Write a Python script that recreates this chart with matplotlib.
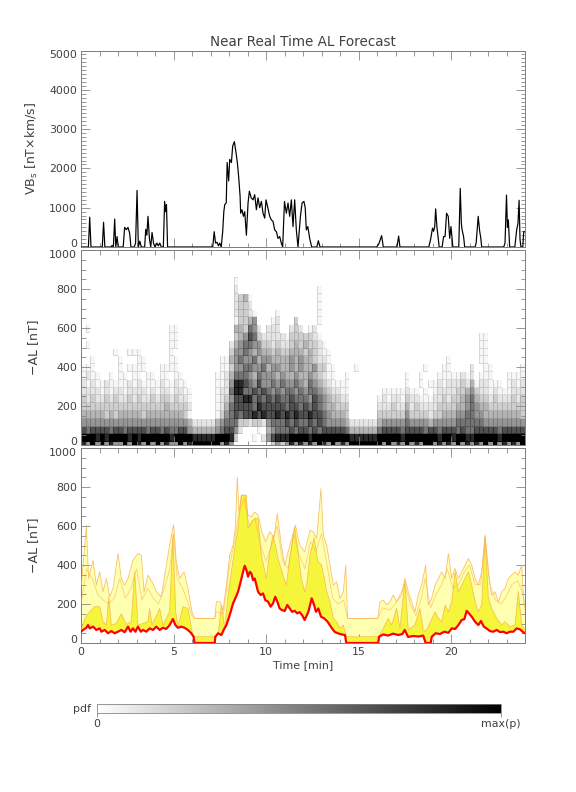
import numpy as np
import matplotlib.pyplot as plt
from matplotlib.ticker import MultipleLocator
from matplotlib.colors import PowerNorm

# ---- top panel: VBs [nT x km/s] vs time [min]
vbs_t = [0.00, 0.40, 0.47, 0.54, 1.15, 1.22, 1.29, 1.62, 1.68, 1.75, 1.82, 1.88, 1.95, 2.01,
         2.28, 2.36, 2.45, 2.54, 2.63, 2.70, 2.88, 2.95, 3.03, 3.10, 3.18, 3.26, 3.44, 3.50,
         3.56, 3.62, 3.70, 3.77, 3.84, 3.92, 4.00, 4.10, 4.18, 4.26, 4.34, 4.45, 4.52, 4.57,
         4.62, 4.68, 7.12, 7.20, 7.27, 7.35, 7.43, 7.50, 7.58, 7.66, 7.72, 7.77, 7.85, 7.90,
         7.98, 8.04, 8.13, 8.20, 8.29, 8.38, 8.45, 8.52, 8.60, 8.63, 8.70, 8.78, 8.85, 8.94,
         9.03, 9.10, 9.20, 9.30, 9.39, 9.48, 9.57, 9.66, 9.75, 9.84, 9.93, 10.00, 10.10, 10.20,
         10.29, 10.38, 10.47, 10.56, 10.65, 10.74, 10.83, 10.90, 11.00, 11.10, 11.19, 11.28,
         11.37, 11.46, 11.55, 11.64, 11.73, 11.86, 11.95, 12.05, 12.12, 12.18, 12.26, 12.36,
         12.47, 12.75, 12.83, 12.92, 15.98, 16.10, 16.25, 16.34, 17.08, 17.17, 17.24, 18.80,
         18.90, 19.00, 19.06, 19.12, 19.17, 19.24, 19.30, 19.36, 19.52, 19.60, 19.68, 19.76,
         19.85, 19.93, 20.00, 20.10, 20.42, 20.50, 20.56, 20.60, 20.68, 20.74, 21.30, 21.36,
         21.47, 21.55, 21.60, 21.66, 22.85, 22.92, 23.00, 23.05, 23.10, 23.17, 23.45, 23.55,
         23.62, 23.68, 23.73, 23.78, 23.88, 23.93, 24.00]
vbs_v = [0, 0, 760, 0, 0, 630, 0, 0, 40, 0, 710, 0, 265, 0,
         0, 500, 440, 500, 350, 0, 0, 100, 1440, 0, 150, 0, 0, 450,
         300, 780, 200, 0, 370, 100, 0, 100, 30, 100, 0, 0, 1160, 900,
         1080, 0, 0, 390, 100, 120, 30, 100, 0, 400, 900, 1080, 1120, 2150,
         1680, 2230, 2150, 2570, 2680, 2400, 2150, 1800, 1290, 860, 950, 780, 900, 300,
         1120, 1420, 1250, 1200, 1330, 950, 1250, 1000, 1160, 860, 735, 1200, 1000, 780,
         690, 650, 435, 390, 220, 265, 95, 0, 1160, 860, 1120, 780,
         1200, 520, 1200, 435, 0, 780, 1120, 1160, 1000, 435, 520, 220,
         0, 0, 160, 0, 0, 80, 290, 0, 0, 280, 0, 0,
         200, 480, 400, 520, 970, 500, 265, 0, 0, 265, 265, 860,
         780, 220, 520, 0, 0, 1490, 600, 435, 265, 0, 0, 100,
         780, 400, 265, 0, 0, 100, 1320, 500, 690, 0, 0, 435,
         600, 1190, 200, 0, 0, 390, 390]

# ---- middle panel: forecast pdf, one string per -AL bin (0, 40, 80 ... nT),
# one digit per 0.25 min column (0 = white, 9 = max), grouped by minute
pdf_rows = [
    "8595 9585 5959 8595 9585 5958 9999 9958 5000 0000 1353 5858 5859 8595 8599 9999 9595 8595 8599 5858 5958 5859 5958 5859",
    "9998 9899 9989 8999 9998 9999 8888 8999 8300 0102 5788 8999 9899 9999 9988 8888 9999 9899 9999 9899 8998 8999 9989 9999",
    "7677 7767 7677 7767 7676 6775 4444 4567 7520 0010 4566 6767 7676 7777 7644 4444 6777 7677 7767 7677 7676 6777 7767 7777",
    "5555 5555 5555 5555 5555 5554 2222 2456 6633 2332 5666 7676 6767 6555 5422 2222 4555 5565 5554 5555 5666 6665 5555 5555",
    "4444 4343 4444 4344 4444 4431 0000 0135 6767 7878 7787 8787 7877 6544 4300 0000 3333 3353 3332 3344 4556 6554 4444 4443",
    "3333 3333 3333 3333 3343 3332 0000 0124 6777 7687 7777 6776 7676 5443 3300 0000 2223 2242 3222 2333 3445 6544 3333 3333",
    "3232 2323 2232 3223 2332 3221 0000 0123 5778 8676 7676 6766 6576 5433 2200 0000 1212 2132 2111 2232 3345 6433 2322 2323",
    "2222 1212 2122 2212 1221 2211 0000 0122 6886 6767 6565 6656 5665 4322 1100 0000 0111 1121 1010 1222 2334 5322 1211 1222",
    "2121 1211 1121 2111 1211 2110 0000 0112 5887 6575 5656 5565 4654 3211 1100 0000 0000 0010 0101 1212 2232 4122 1110 1212",
    "1211 0010 1101 1011 0110 1100 0000 0112 4666 5465 5545 4454 4543 2110 0100 0000 0000 0010 0100 0111 1121 2011 1000 1111",
    "1110 0000 1011 1100 0111 1000 0000 0011 3556 6556 4554 4545 4453 3110 0001 0000 0000 0000 0010 0011 0000 2001 1000 0001",
    "0010 0000 1000 1100 0001 1000 0000 0011 4565 5645 5444 4545 4432 2100 0000 0000 0000 0000 0000 0001 0000 0011 0000 0000",
    "0000 0001 0011 1000 0001 0000 0000 0000 3556 5454 4343 3444 3432 1100 0000 0000 0000 0000 0000 0000 0000 0011 0000 0000",
    "0100 0000 0000 0000 0001 1000 0000 0000 2456 6553 3232 2343 4332 1000 0000 0000 0000 0000 0000 0000 0000 0011 0000 0000",
    "0000 0000 0000 0000 0001 1000 0000 0000 0345 7632 2222 1333 3321 0000 0000 0000 0000 0000 0000 0000 0000 0011 0000 0000",
    "0100 0000 0000 0000 0001 1000 0000 0000 0443 6520 2220 0232 0120 0000 0000 0000 0000 0000 0000 0000 0000 0000 0000 0000",
    "0000 0000 0000 0000 0000 0000 0000 0000 0133 4500 0120 0030 0001 0000 0000 0000 0000 0000 0000 0000 0000 0000 0000 0000",
    "0000 0000 0000 0000 0000 0000 0000 0000 0233 2100 0010 0000 0001 0000 0000 0000 0000 0000 0000 0000 0000 0000 0000 0000",
    "0000 0000 0000 0000 0000 0000 0000 0000 0233 2000 0000 0000 0001 0000 0000 0000 0000 0000 0000 0000 0000 0000 0000 0000",
    "0000 0000 0000 0000 0000 0000 0000 0000 0234 1000 0000 0000 0001 0000 0000 0000 0000 0000 0000 0000 0000 0000 0000 0000",
    "0000 0000 0000 0000 0000 0000 0000 0000 0200 0000 0000 0000 0001 0000 0000 0000 0000 0000 0000 0000 0000 0000 0000 0000",
    "0000 0000 0000 0000 0000 0000 0000 0000 0100 0000 0000 0000 0000 0000 0000 0000 0000 0000 0000 0000 0000 0000 0000 0000",
]
pdf_dt = 0.25     # min per column
pdf_dal = 40      # nT per row

# ---- bottom panel: forecast -AL [nT]
red_t = [0.00, 0.11, 0.29, 0.38, 0.47, 0.65, 0.83, 1.01, 1.10, 1.28, 1.46, 1.64, 1.82, 2.00,
         2.18, 2.36, 2.54, 2.68, 2.81, 2.94, 3.08, 3.23, 3.35, 3.53, 3.71, 3.89, 4.07, 4.25,
         4.43, 4.61, 4.79, 4.97, 5.10, 5.24, 5.42, 5.60, 5.78, 5.96, 6.09, 6.13, 7.23, 7.26,
         7.41, 7.59, 7.71, 7.86, 7.98, 8.09, 8.22, 8.34, 8.49, 8.63, 8.76, 8.85, 8.94, 9.03,
         9.12, 9.21, 9.30, 9.39, 9.48, 9.57, 9.71, 9.84, 9.96, 10.11, 10.25, 10.38, 10.50, 10.61,
         10.74, 10.86, 11.01, 11.15, 11.28, 11.41, 11.55, 11.69, 11.82, 11.95, 12.09, 12.29, 12.47, 12.60,
         12.70, 12.83, 12.97, 13.15, 13.33, 13.50, 13.70, 13.87, 14.09, 14.27, 14.34, 16.07, 16.11, 16.34,
         16.60, 16.87, 17.15, 17.37, 17.50, 17.68, 17.96, 18.23, 18.50, 18.63, 18.90, 18.96, 19.17, 19.40,
         19.64, 19.86, 20.04, 20.22, 20.40, 20.58, 20.72, 20.85, 20.97, 21.12, 21.30, 21.48, 21.62, 21.77,
         21.93, 22.11, 22.29, 22.47, 22.65, 22.83, 23.00, 23.19, 23.37, 23.55, 23.73, 23.91, 24.00]
red_v = [58, 67, 78, 92, 75, 84, 67, 75, 58, 67, 50, 61, 50, 58,
         67, 55, 84, 58, 75, 58, 84, 58, 67, 58, 75, 67, 84, 67,
         78, 72, 92, 123, 92, 78, 84, 78, 67, 50, 32, 0, 0, 32,
         50, 41, 67, 92, 126, 160, 203, 229, 263, 314, 365, 396, 374, 340,
         365, 357, 322, 331, 297, 263, 246, 254, 220, 212, 186, 203, 237, 212,
         177, 169, 164, 195, 177, 160, 165, 152, 158, 143, 118, 160, 229, 195,
         160, 177, 135, 126, 109, 84, 58, 50, 44, 41, 0, 0, 32, 44,
         38, 48, 41, 46, 67, 31, 36, 33, 38, 0, 0, 32, 50, 46,
         58, 52, 75, 72, 92, 118, 122, 165, 152, 135, 109, 92, 113, 84,
         74, 61, 58, 67, 56, 58, 50, 58, 58, 75, 70, 55, 50]

hi_t = [0.02, 0.29, 0.41, 0.65, 0.83, 1.01, 1.19, 1.37, 1.55, 1.73, 2.00, 2.18, 2.36, 2.54,
        2.81, 3.08, 3.26, 3.41, 3.62, 3.89, 4.07, 4.34, 4.56, 4.79, 5.01, 5.15, 5.33, 5.57,
        5.78, 6.00, 6.14, 7.23, 7.32, 7.50, 7.68, 7.86, 8.04, 8.22, 8.34, 8.45, 8.54, 8.67,
        8.85, 9.03, 9.21, 9.39, 9.57, 9.78, 9.98, 10.20, 10.43, 10.61, 10.83, 11.01, 11.19, 11.37,
        11.59, 11.82, 12.09, 12.38, 12.56, 12.74, 12.97, 13.10, 13.28, 13.46, 13.64, 13.82, 14.00, 14.18,
        14.31, 14.41, 16.04, 16.16, 16.34, 16.52, 16.70, 16.88, 17.06, 17.33, 17.51, 17.69, 17.87, 18.05,
        18.23, 18.41, 18.63, 18.77, 18.95, 19.14, 19.32, 19.50, 19.68, 19.86, 20.04, 20.22, 20.40, 20.58,
        20.76, 20.94, 21.12, 21.30, 21.48, 21.66, 21.84, 22.02, 22.20, 22.38, 22.56, 22.74, 22.92, 23.10,
        23.28, 23.46, 23.64, 23.82, 23.95, 24.00]
hi_v = [297, 604, 331, 425, 297, 365, 263, 331, 237, 280, 459, 331, 297, 331,
        425, 459, 450, 263, 348, 305, 263, 237, 365, 502, 607, 416, 331, 365,
        280, 160, 126, 126, 212, 212, 169, 297, 450, 502, 587, 852, 672, 758,
        758, 655, 647, 672, 655, 570, 519, 570, 544, 664, 502, 399, 467, 527,
        604, 502, 467, 579, 570, 536, 792, 553, 502, 399, 297, 314, 229, 263,
        399, 126, 126, 212, 220, 195, 212, 246, 212, 246, 331, 263, 212, 160,
        246, 297, 399, 195, 229, 297, 331, 365, 331, 459, 331, 382, 331, 365,
        399, 433, 399, 331, 297, 365, 553, 365, 246, 263, 212, 263, 280, 331,
        348, 365, 348, 399, 195, 195]

mid_t = [0.0, 0.3, 0.6, 0.9, 1.2, 1.5, 1.8, 2.1, 2.4, 2.7, 3.0, 3.3, 3.6, 3.9, 4.2, 4.5, 4.8,
         5.0, 5.2, 5.5, 5.8, 6.0, 6.14, 7.23, 7.3, 7.7, 8.0, 8.3, 8.5, 8.8, 9.1, 9.4, 9.7, 10.0,
         10.3, 10.6, 10.9, 11.2, 11.5, 11.8, 12.1, 12.4, 12.7, 13.0, 13.3, 13.6, 13.9, 14.2, 14.41,
         16.04, 16.3, 16.7, 17.0, 17.5, 17.8, 18.1, 18.4, 18.6, 18.9, 19.2, 19.5, 19.8, 20.1, 20.4,
         20.7, 21.0, 21.3, 21.6, 21.85, 22.1, 22.4, 22.7, 23.0, 23.3, 23.6, 23.9, 24.0]
mid_v = [200, 380, 330, 250, 220, 200, 230, 330, 230, 280, 380, 220, 280, 230, 200, 280, 380,
         560, 330, 280, 200, 140, 126, 126, 160, 150, 380, 520, 650, 740, 600, 640, 500, 420,
         500, 600, 420, 380, 560, 450, 380, 520, 470, 560, 400, 230, 200, 220, 126,
         126, 180, 170, 200, 300, 200, 140, 230, 330, 180, 250, 300, 380, 280, 300,
         360, 400, 300, 300, 540, 300, 220, 200, 240, 300, 320, 250, 170]

core_t = [0.02, 0.20, 0.47, 0.74, 1.01, 1.19, 1.37, 1.50, 1.64, 1.91, 2.18, 2.45, 2.72, 2.90,
          3.08, 3.35, 3.62, 3.71, 3.84, 4.25, 4.43, 4.79, 4.97, 5.12, 5.24, 5.51, 5.78, 5.96,
          6.05, 7.23, 7.41, 7.59, 7.77, 7.95, 8.13, 8.31, 8.49, 8.67, 8.94, 9.03, 9.21, 9.39,
          9.57, 9.75, 10.02, 10.20, 10.38, 10.50, 10.65, 10.92, 11.10, 11.28, 11.55, 11.73, 11.91, 12.09,
          12.20, 12.38, 12.60, 12.80, 13.00, 13.15, 13.28, 13.46, 13.64, 13.82, 14.00, 14.18, 14.34, 16.07,
          16.25, 16.61, 16.79, 17.06, 17.24, 17.51, 17.69, 18.05, 18.32, 18.50, 18.63, 18.77, 19.14, 19.32,
          19.50, 19.68, 19.86, 20.04, 20.22, 20.40, 20.58, 20.76, 20.94, 21.12, 21.30, 21.48, 21.66, 21.84,
          22.02, 22.20, 22.47, 22.74, 22.92, 23.19, 23.46, 23.64, 23.82, 24.00]
core_v = [67, 126, 160, 186, 186, 109, 92, 237, 92, 100, 150, 95, 110, 365,
          92, 100, 110, 177, 92, 177, 92, 160, 553, 160, 84, 186, 177, 84,
          32, 32, 41, 195, 75, 246, 365, 485, 587, 758, 758, 587, 621, 638,
          638, 450, 331, 467, 553, 502, 433, 348, 297, 433, 596, 467, 331, 263,
          300, 450, 540, 420, 400, 331, 263, 212, 126, 109, 75, 92, 32, 32,
          58, 126, 92, 177, 75, 320, 67, 92, 177, 67, 60, 84, 160, 126,
          109, 195, 160, 212, 365, 263, 297, 331, 365, 297, 212, 160, 195, 544,
          229, 177, 126, 92, 109, 84, 92, 263, 92, 70]

text_col = '#404040'
frame_col = '#808080'
pale = '#FFFFB0'
bright = '#F5F53C'
orange = '#F8B04C'

plt.rcParams['font.family'] = ['DejaVu Sans']

fig = plt.figure(figsize=(8, 11), dpi=72)
left, width = 81 / 576, 444 / 576
ax1 = fig.add_axes([left, 1 - 247 / 792, width, 196.5 / 792])
ax2 = fig.add_axes([left, 1 - 445 / 792, width, 195 / 792])
ax3 = fig.add_axes([left, 1 - 643 / 792, width, 195 / 792])


def style(ax, ymax, ymaj, ymin):
    ax.set_xlim(0, 24)
    ax.set_ylim(0, ymax)
    ax.set_xticks([0, 5, 10, 15, 20])
    ax.xaxis.set_minor_locator(MultipleLocator(1))
    ax.set_yticks(np.arange(0, ymax + 1, ymaj))
    ax.yaxis.set_minor_locator(MultipleLocator(ymin))
    ax.tick_params(which='both', direction='in', top=True, right=True,
                   color=frame_col, labelcolor=text_col, labelsize=11, pad=4)
    ax.tick_params(which='major', length=9, width=0.8)
    ax.tick_params(which='minor', length=4.5, width=0.8)
    for s in ax.spines.values():
        s.set_color(frame_col)
        s.set_linewidth(1)
    ax.yaxis.set_label_coords(-0.092, 0.5)
    # IDL-like placement: end labels pulled inside the panel
    yt = ax.yaxis.get_major_ticks()
    yt[0].label1.set_va('baseline')
    yt[-1].label1.set_va('top')


# top
ax1.plot(vbs_t, vbs_v, color='black', lw=1.2, zorder=3)
style(ax1, 5000, 1000, 100)
ax1.tick_params(labelbottom=False)
ax1.set_ylabel('VB$_\\mathregular{s}$ [nT\u00d7km/s]', fontsize=12.5, color=text_col)
ax1.set_title('Near Real Time AL Forecast', fontsize=13.5, color=text_col, pad=5)

# middle
grid = np.array([[int(c) for c in row.replace(' ', '')] for row in pdf_rows])
t_edges = np.arange(grid.shape[1] + 1) * pdf_dt
al_edges = np.arange(grid.shape[0] + 1) * pdf_dal - pdf_dal / 2
norm = PowerNorm(gamma=1.5, vmin=0, vmax=9)
cmap = plt.get_cmap('gray_r')
mesh = ax2.pcolormesh(t_edges, al_edges, grid, cmap=cmap, norm=norm, zorder=1)
edge = cmap(np.clip(norm(grid) + 0.12, 0, 1)).reshape(-1, 4)
edge[grid.ravel() == 0, 3] = 0
mesh.set_edgecolor(edge)
mesh.set_linewidth(0.5)
style(ax2, 1000, 200, 50)
ax2.tick_params(labelbottom=False)
ax2.set_ylabel('\u2212AL [nT]', fontsize=12.5, color=text_col)

# bottom
ax3.fill(np.r_[hi_t, red_t[::-1]], np.r_[hi_v, red_v[::-1]], color=pale, lw=0, zorder=1)
ax3.fill(np.r_[core_t, red_t[::-1]], np.r_[core_v, red_v[::-1]], color=bright, lw=0, zorder=2)
ax3.plot(hi_t, hi_v, color=orange, lw=0.8, alpha=0.8, zorder=3)
ax3.plot(mid_t, mid_v, color=orange, lw=0.8, alpha=0.6, zorder=3)
ax3.plot(core_t, core_v, color=orange, lw=0.8, alpha=0.8, zorder=3)
ax3.plot(red_t, red_v, color='red', lw=2.2, zorder=4)
style(ax3, 1000, 200, 50)
ax3.set_ylabel('\u2212AL [nT]', fontsize=12.5, color=text_col)
ax3.set_xlabel('Time [min]', fontsize=11, color=text_col, labelpad=3)

# colour bar
cax = fig.add_axes([97 / 576, 1 - 713 / 792, 404 / 576, 9 / 792])
cb = fig.colorbar(mesh, cax=cax, orientation='horizontal', ticks=[0, 9])
cb.ax.set_xticklabels(['0', 'max(p)'])
cb.ax.tick_params(direction='out', length=4, width=0.8, color=frame_col,
                  labelcolor=text_col, labelsize=11, pad=2)
cb.outline.set_edgecolor(frame_col)
cb.outline.set_linewidth(0.8)
cax.text(-0.015, 0.5, 'pdf', transform=cax.transAxes, ha='right', va='center',
         fontsize=11, color=text_col)

plt.savefig('out.png', dpi=72)
